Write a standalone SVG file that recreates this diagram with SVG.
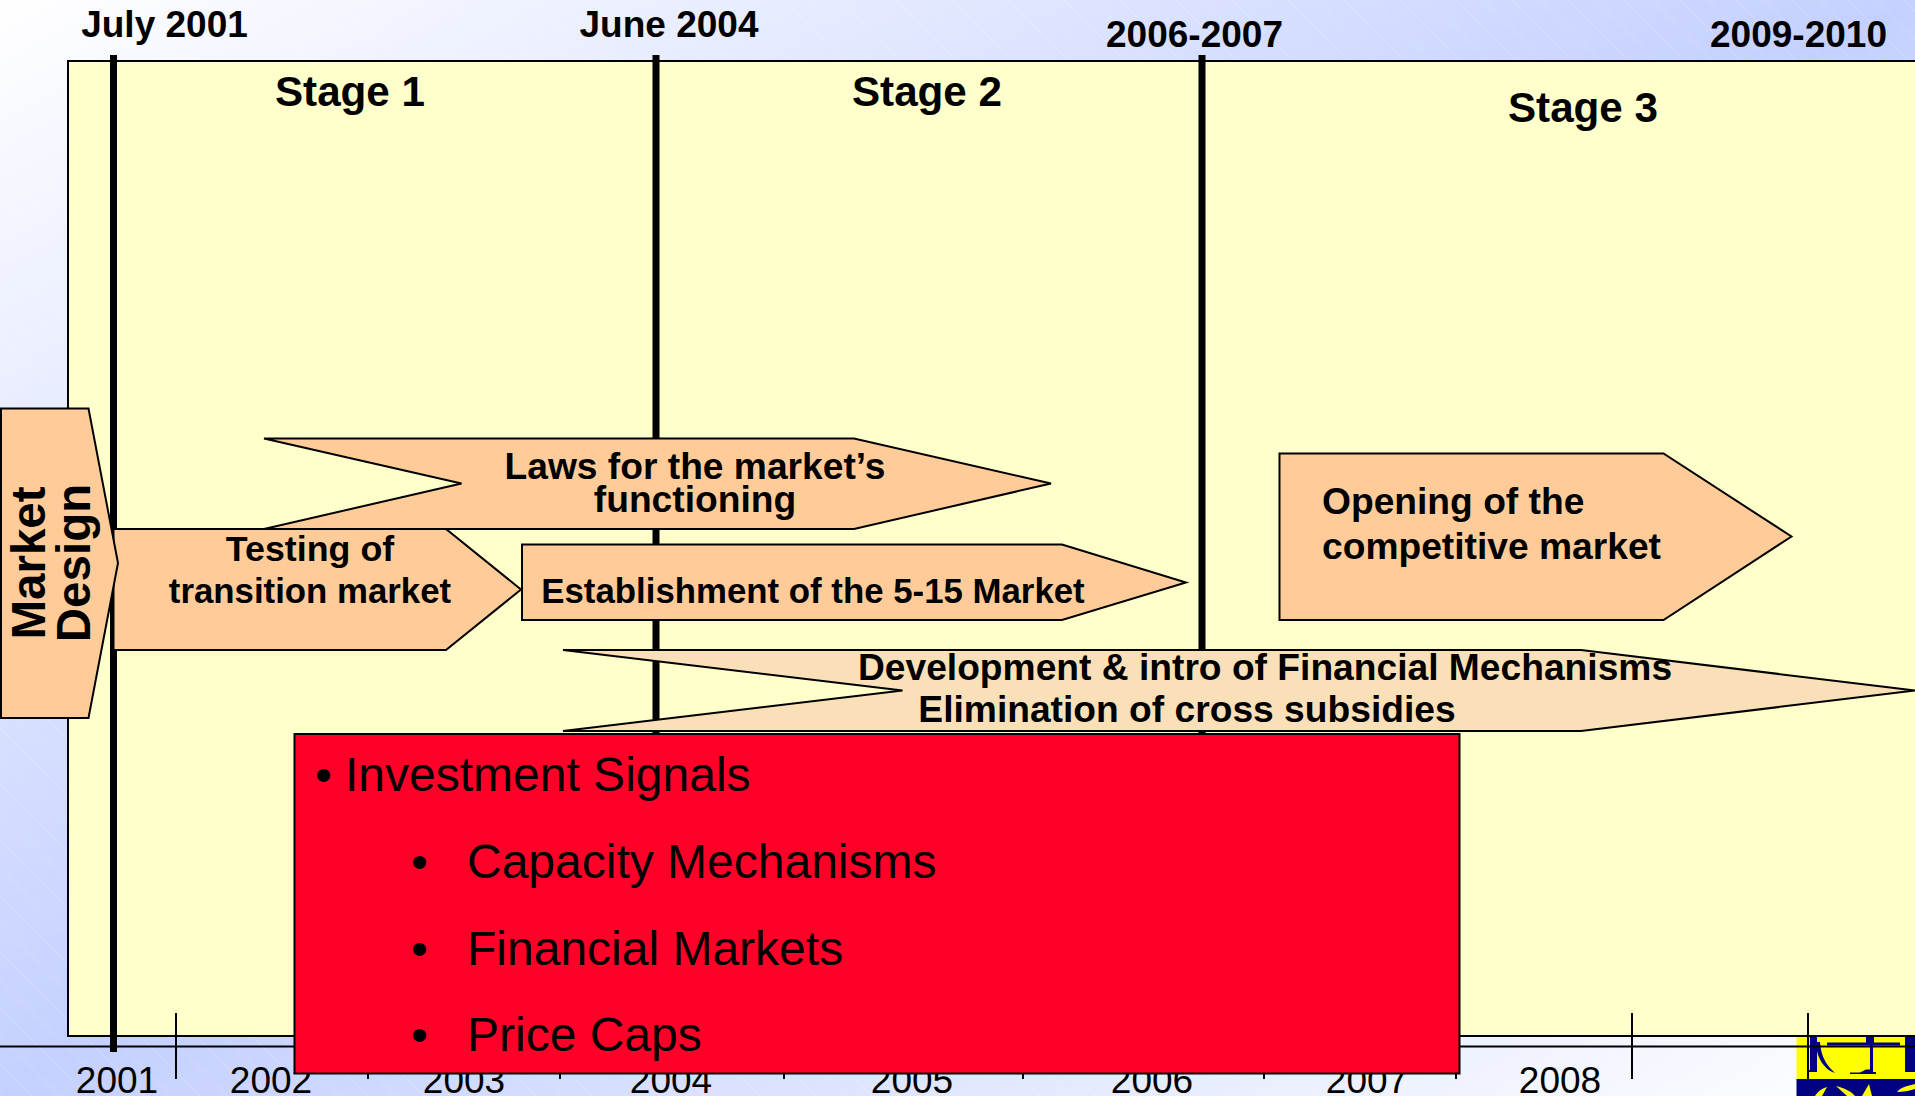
<svg xmlns="http://www.w3.org/2000/svg" width="1915" height="1096" viewBox="0 0 1915 1096">
<style>
text{font-family:"Liberation Sans",Arial,sans-serif;fill:#000}
.date{font-size:37px;font-weight:700;text-anchor:middle}
.stage{font-size:42.200px;font-weight:700;text-anchor:middle}
.lab{font-size:37.200px;font-weight:700;text-anchor:middle}
.small{font-size:34.800px}
.md{font-size:47.500px}
.start{text-anchor:start}
.yr{font-size:37px;text-anchor:middle}
.big{font-size:48px}
.arrow{fill:#ffcc99;stroke:#000;stroke-width:2}
.vbar{stroke:#000;stroke-width:7;fill:none}
.tick{stroke:#000;stroke-width:2;fill:none}
</style>
<defs>
<linearGradient id="bg" x1="0" y1="0" x2="1" y2="1">
<stop offset="0" stop-color="#ffffff"/>
<stop offset="0.5" stop-color="#c4d0ff"/>
<stop offset="1" stop-color="#ffffff"/>
</linearGradient>
<pattern id="hatch" width="28" height="28" patternUnits="userSpaceOnUse">
<path d="M0 0L28 28" stroke="#ffffff" stroke-opacity="0.18" stroke-width="1"/>
</pattern>
</defs>
<rect width="1915" height="1096" fill="url(#bg)"/>
<rect width="1915" height="1096" fill="url(#hatch)"/>
<g id="logo">
<rect x="1796.500" y="1037" width="118.500" height="42" fill="#ffff00"/>
<rect x="1796.500" y="1079" width="118.500" height="17" fill="#000080"/>
<path d="M1810 1037h7v35h-8v-2h1zM1820 1042c1 12 4 21 15 31c-10-3-19-15-19-31zM1827 1042.500h73v3h-27v26.500h3v2h-26v-1.500h10l6-3h4v-24h-43zM1866 1037h8v6h-8zM1905 1037h10v35h-10z" fill="#000080"/>
<path d="M1815 1096c3-5 8-8 12-9l-5 9zM1836 1086c8 2 15 5 19 10h-8zM1862 1096l7-12l3 12zM1897 1092c4-5 10-6 18-8v5c-6 2-12 3-18 3z" fill="#ffff00"/>
</g>
<g id="frame"><rect x="68" y="61" width="1860" height="975" fill="#ffffcc" stroke="#000" stroke-width="2"/></g>
<g id="connectors">
<path class="vbar" d="M113.500 55V1052"/>
<path class="vbar" d="M656 55V734"/>
<path class="vbar" d="M1202 55V734"/>
<path d="M0 1046.500H1915" stroke="#000" stroke-width="2" fill="none"/>
<path class="tick" d="M176 1013V1079M1632 1013V1079M1808 1013V1079M368 1070V1079M560 1070V1079M784 1070V1079M1023 1070V1079M1264 1070V1079M1456 1070V1079"/>
</g>
<g id="date-labels">
<text class="date" x="164.500" y="37">July 2001</text>
<text class="date" x="669" y="37">June 2004</text>
<text class="date" x="1194.500" y="47">2006-2007</text>
<text class="date" x="1798.500" y="47">2009-2010</text>
</g>
<g id="stage-labels">
<text class="stage" x="350" y="106">Stage 1</text>
<text class="stage" x="927" y="106">Stage 2</text>
<text class="stage" x="1583" y="122">Stage 3</text>
</g>
<g id="years">
<text class="yr" x="117" y="1093">2001</text>
<text class="yr" x="271" y="1093">2002</text>
<text class="yr" x="464" y="1093">2003</text>
<text class="yr" x="671" y="1093">2004</text>
<text class="yr" x="912" y="1093">2005</text>
<text class="yr" x="1152" y="1093">2006</text>
<text class="yr" x="1367" y="1093">2007</text>
<text class="yr" x="1560" y="1093">2008</text>
</g>
<g id="testing">
<path class="arrow" d="M113.500 529H446L521 589.500L446 650H113.500Z"/>
<text class="lab" x="310" y="561" style="font-size:35.800px">Testing of</text>
<text class="lab small" x="310" y="603">transition market</text>
</g>
<g id="market-design">
<path class="arrow" d="M1 408.500H88.500L118 563L88.500 718H1Z"/>
<text class="lab md" transform="translate(45 563) rotate(-90)">Market</text>
<text class="lab md" transform="translate(90 563) rotate(-90)">Design</text>
</g>
<g id="laws">
<path class="arrow" d="M264 438.500H854L1051 483.500L854 529H264L461.500 483.500Z"/>
<text class="lab" x="695" y="479">Laws for the market’s</text>
<text class="lab" x="695" y="512">functioning</text>
</g>
<g id="establishment">
<path class="arrow" d="M522 544.500H1062L1186 582.500L1062 620H522Z"/>
<text class="lab small" x="813" y="603">Establishment of the 5-15 Market</text>
</g>
<g id="opening">
<path class="arrow" d="M1279.500 453.500H1663.500L1791.500 536.500L1663.500 620H1279.500Z"/>
<text class="lab start" x="1322" y="514">Opening of the</text>
<text class="lab start" x="1322" y="559">competitive market</text>
</g>
<g id="development">
<path d="M563 650H1581L1915 690.500L1581 731H563L902.500 690.500Z" fill="#fae0b8" stroke="#000" stroke-width="2"/>
<text class="lab" x="1265" y="680">Development &amp; intro of Financial Mechanisms</text>
<text class="lab" x="1187" y="722">Elimination of cross subsidies</text>
</g>
<g id="signals">
<rect x="294.500" y="734" width="1165" height="339.500" fill="#ff0029" stroke="#000" stroke-width="2"/>
<text x="315" y="791" class="big">•</text>
<text x="345" y="791" class="big">Investment Signals</text>
<text x="411" y="878" class="big">•</text>
<text x="467" y="878" class="big">Capacity Mechanisms</text>
<text x="411" y="965" class="big">•</text>
<text x="467" y="965" class="big">Financial Markets</text>
<text x="411" y="1051" class="big">•</text>
<text x="467" y="1051" class="big">Price Caps</text>
</g>
</svg>
